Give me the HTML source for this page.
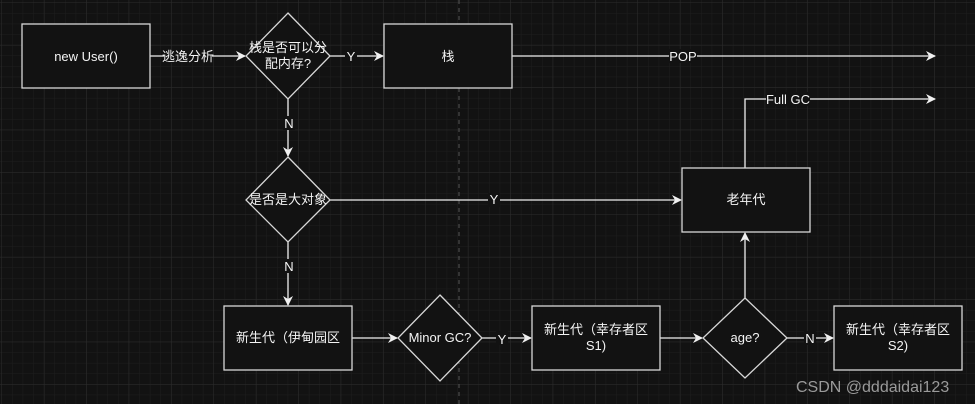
<!DOCTYPE html>
<html><head><meta charset="utf-8"><style>
html,body{margin:0;padding:0;background:#121212;}
svg{display:block;}
text{font-family:"Liberation Sans","Noto Sans CJK SC",sans-serif;fill:#f4f4f4;font-size:13px;}
</style></head><body>
<svg width="975" height="404" viewBox="0 0 975 404" xmlns="http://www.w3.org/2000/svg">
<defs>
<pattern id="g" width="10.6" height="10.6" patternUnits="userSpaceOnUse" x="2" y="3"><path d="M10.6 0V10.6H0" fill="none" stroke="#1e1e1e" stroke-width="1"/></pattern>
<pattern id="G" width="42.4" height="42.4" patternUnits="userSpaceOnUse" x="2" y="3"><path d="M42.4 0V42.4H0" fill="none" stroke="#2c2c2c" stroke-width="1"/></pattern>
<marker id="a" markerWidth="10" markerHeight="10" refX="9" refY="5" orient="auto" markerUnits="userSpaceOnUse"><path d="M0 0L10 5L0 10L3 5Z" fill="#f0f0f0"/></marker>
</defs>
<rect width="975" height="404" fill="#121212"/>
<rect width="975" height="404" fill="url(#g)"/>
<rect width="975" height="404" fill="url(#G)"/>
<line x1="459" y1="0" x2="459" y2="404" stroke="#555" stroke-dasharray="4 4"/>
<g stroke="#f0f0f0" stroke-width="1.3" fill="none">
<line x1="150" y1="56" x2="245" y2="56" marker-end="url(#a)"/>
<line x1="330" y1="56" x2="383" y2="56" marker-end="url(#a)"/>
<line x1="512" y1="56" x2="935" y2="56" marker-end="url(#a)"/>
<line x1="288" y1="99" x2="288" y2="156" marker-end="url(#a)"/>
<line x1="330" y1="200" x2="681" y2="200" marker-end="url(#a)"/>
<line x1="288" y1="242" x2="288" y2="305" marker-end="url(#a)"/>
<polyline points="745,168 745,99 935,99" marker-end="url(#a)"/>
<line x1="352" y1="338" x2="397" y2="338" marker-end="url(#a)"/>
<line x1="482" y1="338" x2="531" y2="338" marker-end="url(#a)"/>
<line x1="660" y1="338" x2="702" y2="338" marker-end="url(#a)"/>
<line x1="745" y1="298" x2="745" y2="233" marker-end="url(#a)"/>
<line x1="787" y1="338" x2="833" y2="338" marker-end="url(#a)"/>
</g>
<g fill="#121212" stroke="#d8d8d8" stroke-width="1.3">
<rect x="22" y="24" width="128" height="64"/>
<rect x="384" y="24" width="128" height="64"/>
<rect x="682" y="168" width="128" height="64"/>
<rect x="224" y="306" width="128" height="64"/>
<rect x="532" y="306" width="128" height="64"/>
<rect x="834" y="306" width="128" height="64"/>
<polygon points="288,13 330,56 288,99 246,56"/>
<polygon points="288,157 330,200 288,242 246,200"/>
<polygon points="440,295 482,338 440,381 398,338"/>
<polygon points="745,298 787,338 745,378 703,338"/>
</g>
<g fill="#121212">
<rect x="164" y="49" width="48" height="14"/>
<rect x="345" y="49" width="12" height="14"/>
<rect x="669" y="49" width="28" height="14"/>
<rect x="283" y="116" width="12" height="14"/>
<rect x="488" y="193" width="12" height="14"/>
<rect x="766" y="92" width="44" height="14"/>
<rect x="283" y="259" width="12" height="14"/>
<rect x="496" y="331" width="12" height="14"/>
<rect x="804" y="331" width="12" height="14"/>
</g>
<g text-anchor="middle">
<text x="86" y="61">new User()</text>
<text x="188" y="61">逃逸分析</text>
<text x="288" y="52">栈是否可以分</text>
<text x="288" y="68">配内存?</text>
<text x="351" y="61">Y</text>
<text x="448" y="61">栈</text>
<text x="683" y="61">POP</text>
<text x="289" y="128">N</text>
<text x="288" y="204">是否是大对象</text>
<text x="494" y="204">Y</text>
<text x="746" y="204">老年代</text>
<text x="788" y="104">Full GC</text>
<text x="289" y="271">N</text>
<text x="288" y="342">新生代（伊甸园区</text>
<text x="440" y="342">Minor GC?</text>
<text x="502" y="344">Y</text>
<text x="596" y="334">新生代（幸存者区</text>
<text x="596" y="350">S1)</text>
<text x="745" y="342">age?</text>
<text x="810" y="343">N</text>
<text x="898" y="334">新生代（幸存者区</text>
<text x="898" y="350">S2)</text>
</g>
<text x="796" y="392" style="font-size:16px;fill:#9a9a9a">CSDN @dddaidai123</text>
</svg>
</body></html>
